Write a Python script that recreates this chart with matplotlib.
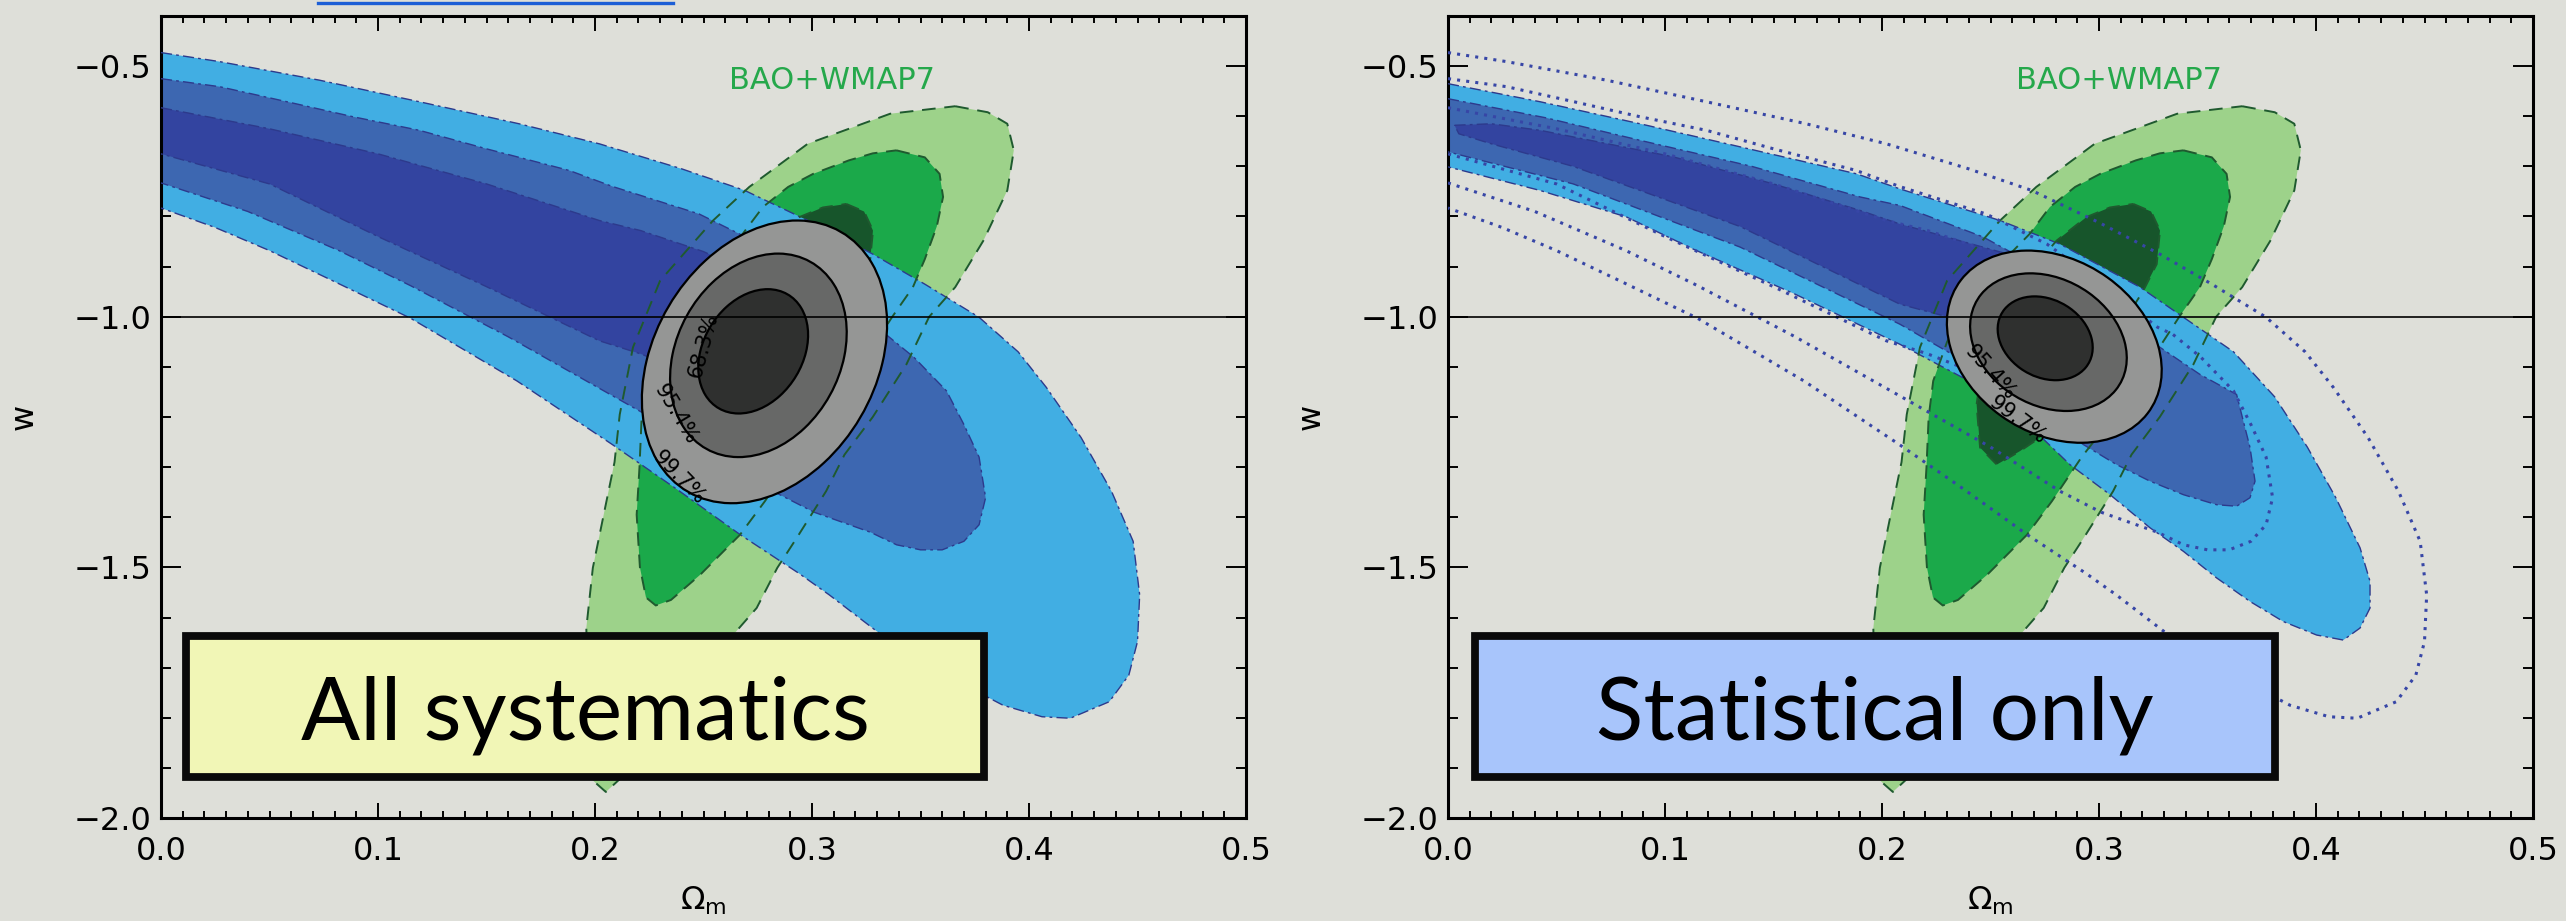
import numpy as np
import matplotlib
matplotlib.use("Agg")
import matplotlib.pyplot as plt
from matplotlib.patches import Ellipse, Rectangle
from matplotlib.lines import Line2D
from matplotlib.ticker import MultipleLocator, FixedLocator, FuncFormatter

# ---------------------------------------------------------------- data
# SN constraints, all systematics (68.3 / 95.4 / 99.7 %), Omega_m vs w
SYS99_OM = [0.000, 0.027, 0.073, 0.119, 0.165, 0.202, 0.240, 0.269, 0.300, 0.328, 0.352, 0.377,
            0.395, 0.408, 0.424, 0.438, 0.448, 0.451, 0.450, 0.446, 0.437, 0.419, 0.406, 0.388,
            0.355, 0.330, 0.308, 0.294, 0.267, 0.238, 0.208, 0.164, 0.115, 0.080, 0.050, 0.025, 0.000]
SYS99_W = [-0.473, -0.491, -0.528, -0.571, -0.615, -0.655, -0.705, -0.748, -0.812, -0.875, -0.935, -1.001,
           -1.070, -1.141, -1.241, -1.348, -1.448, -1.555, -1.648, -1.715, -1.768, -1.801, -1.798, -1.775,
           -1.700, -1.628, -1.555, -1.512, -1.435, -1.345, -1.255, -1.128, -1.003, -0.930, -0.868, -0.822, -0.783]

SYS95_OM = [0.000, 0.027, 0.058, 0.0885, 0.119, 0.150, 0.188, 0.208, 0.248, 0.276, 0.300, 0.327, 0.334,
            0.347, 0.362, 0.370, 0.377, 0.380, 0.377, 0.370, 0.360, 0.350, 0.339, 0.327, 0.301, 0.282,
            0.250, 0.207, 0.160, 0.115, 0.082, 0.040, 0.000]
SYS95_W = [-0.525, -0.541, -0.571, -0.601, -0.628, -0.665, -0.708, -0.740, -0.795, -0.855, -0.930, -1.021, -1.035,
           -1.081, -1.148, -1.215, -1.280, -1.361, -1.415, -1.448, -1.465, -1.465, -1.455, -1.430, -1.390, -1.348,
           -1.260, -1.155, -1.040, -0.938, -0.868, -0.790, -0.733]

SYS68_OM = [0.000, 0.050, 0.100, 0.150, 0.202, 0.221, 0.250, 0.280, 0.298, 0.302, 0.292, 0.270,
            0.245, 0.221, 0.202, 0.150, 0.100, 0.050, 0.000]
SYS68_W = [-0.583, -0.625, -0.675, -0.735, -0.808, -0.828, -0.870, -0.930, -0.990, -1.040, -1.090, -1.120,
           -1.115, -1.074, -1.048, -0.940, -0.840, -0.735, -0.675]

# SN constraints, statistical errors only
STAT99_OM = [0.000, 0.0424, 0.0885, 0.1346, 0.1884, 0.2083, 0.2544, 0.282, 0.3189, 0.3389, 0.362, 0.381,
             0.396, 0.409, 0.4203, 0.4249, 0.4249, 0.4203, 0.4126, 0.4003, 0.3849, 0.3696, 0.3542, 0.3389,
             0.3235, 0.3051, 0.2866, 0.2544, 0.2083, 0.160, 0.113, 0.0823, 0.0424, 0.000]
STAT99_W = [-0.535, -0.571, -0.615, -0.661, -0.715, -0.745, -0.808, -0.855, -0.941, -1.001, -1.070, -1.160,
            -1.260, -1.360, -1.461, -1.528, -1.581, -1.621, -1.645, -1.635, -1.608, -1.568, -1.521, -1.468,
            -1.421, -1.355, -1.295, -1.161, -1.055, -0.955, -0.865, -0.801, -0.748, -0.701]

STAT95_OM = [0.000, 0.045, 0.0885, 0.140, 0.1899, 0.2083, 0.2467, 0.280, 0.310, 0.3281, 0.3465, 0.3634,
             0.3696, 0.3719, 0.3696, 0.3634, 0.3542, 0.3389, 0.3235, 0.3081, 0.2928, 0.2544, 0.2083,
             0.1346, 0.0577, 0.000]
STAT95_W = [-0.565, -0.603, -0.648, -0.700, -0.761, -0.778, -0.841, -0.920, -1.010, -1.061, -1.115, -1.155,
            -1.261, -1.328, -1.361, -1.378, -1.375, -1.355, -1.328, -1.295, -1.255, -1.130, -1.015,
            -0.861, -0.735, -0.671]

STAT68_OM = [0.003, 0.020, 0.0424, 0.1038, 0.150, 0.190, 0.2083, 0.2621, 0.290, 0.300, 0.290, 0.260,
             0.230, 0.2083, 0.1346, 0.0577, 0.020, 0.005]
STAT68_W = [-0.618, -0.615, -0.628, -0.681, -0.735, -0.788, -0.815, -0.880, -0.950, -1.020, -1.070, -1.060,
            -1.000, -0.975, -0.820, -0.700, -0.655, -0.635]

# BAO + WMAP7 constraints
BAO99_OM = [0.366, 0.381, 0.390, 0.393, 0.390, 0.379, 0.366, 0.354, 0.3435, 0.328, 0.315, 0.3065, 0.293,
            0.284, 0.2745, 0.265, 0.245, 0.225, 0.212, 0.205, 0.199, 0.197, 0.196, 0.199, 0.204, 0.209,
            0.2114, 0.2175, 0.230, 0.2544, 0.2711, 0.298, 0.336]
BAO99_W = [-0.580, -0.592, -0.615, -0.668, -0.748, -0.848, -0.941, -1.000, -1.095, -1.200, -1.275, -1.348, -1.441,
           -1.501, -1.581, -1.628, -1.730, -1.840, -1.920, -1.948, -1.925, -1.800, -1.621, -1.501, -1.395, -1.290,
           -1.195, -1.061, -0.928, -0.808, -0.741, -0.655, -0.595]

BAO95_OM = [0.3389, 0.352, 0.3588, 0.3604, 0.3575, 0.352, 0.3465, 0.337, 0.325, 0.310, 0.292, 0.2783, 0.2668,
            0.2484, 0.235, 0.228, 0.2235, 0.2207, 0.2192, 0.2205, 0.2215, 0.2236, 0.230, 0.240, 0.256, 0.268,
            0.2774, 0.289, 0.3005, 0.317, 0.328]
BAO95_W = [-0.668, -0.682, -0.715, -0.761, -0.820, -0.885, -0.941, -1.000, -1.080, -1.180, -1.280, -1.368, -1.435,
           -1.515, -1.565, -1.576, -1.560, -1.500, -1.395, -1.300, -1.200, -1.128, -1.050, -0.970, -0.888, -0.835,
           -0.781, -0.741, -0.715, -0.688, -0.674]

BAO68_OM = [0.3158, 0.324, 0.3281, 0.3266, 0.3204, 0.310, 0.295, 0.282, 0.2728, 0.2636, 0.2529, 0.2452,
            0.2436, 0.246, 0.252, 0.262, 0.2805, 0.2943, 0.305]
BAO68_W = [-0.775, -0.790, -0.828, -0.895, -0.948, -1.020, -1.100, -1.170, -1.241, -1.268, -1.295, -1.261,
           -1.175, -1.100, -1.020, -0.940, -0.848, -0.801, -0.782]

# Combined SN+BAO+WMAP7 contours (centre, extent along each axis, correlation)
LEVELS = ["99.7%", "95.4%", "68.3%"]
COMB_SYS_OM = [0.2781, 0.2753, 0.2729]
COMB_SYS_W = [-1.090, -1.077, -1.069]
COMB_SYS_DOM = [0.0565, 0.0407, 0.0253]
COMB_SYS_DW = [0.282, 0.203, 0.124]
COMB_SYS_RHO = [0.266, 0.223, 0.263]

COMB_STAT_OM = [0.2794, 0.2767, 0.2752]
COMB_STAT_W = [-1.0597, -1.0507, -1.043]
COMB_STAT_DOM = [0.0495, 0.0361, 0.0219]
COMB_STAT_DW = [0.1917, 0.1373, 0.0836]
COMB_STAT_RHO = [-0.246, -0.229, -0.220]

X_TICKS = [0.0, 0.1, 0.2, 0.3, 0.4, 0.5]
Y_TICKS = [-2.0, -1.5, -1.0, -0.5]

# ---------------------------------------------------------------- style
BG = "#dedfd9"
SN_COLORS = ["#41aee3", "#3d67b1", "#3344a0"]
BAO_COLORS = ["#9dd28a", "#1ba94a", "#17552b"]
GRAY_COLORS = ["#959695", "#676867", "#2f302f"]
SN_EDGE = "#2d3a8c"
BAO_EDGE = "#1f5a2f"

plt.rcParams["font.family"] = ["DejaVu Sans"]

fig = plt.figure(figsize=(25.66, 9.21), dpi=100)
fig.patch.set_facecolor(BG)

axL = fig.add_axes([161 / 2566, 1 - 818 / 921, 1085 / 2566, 802 / 921])
axR = fig.add_axes([1448 / 2566, 1 - 818 / 921, 1085 / 2566, 802 / 921])

fig.add_artist(Line2D([318 / 2566, 673 / 2566], [1 - 3 / 921, 1 - 3 / 921],
                      transform=fig.transFigure, color="#1d5fd6", lw=2.4))


def minus_fmt(v, _pos):
    return f"{v:.1f}".replace("-", "\u2212")


def style_axes(ax):
    ax.set_facecolor("none")
    ax.set_xlim(0.0, 0.5)
    ax.set_ylim(-2.0, -0.4)
    ax.xaxis.set_major_locator(FixedLocator(X_TICKS))
    ax.xaxis.set_minor_locator(MultipleLocator(0.01))
    ax.yaxis.set_major_locator(FixedLocator(Y_TICKS))
    ax.yaxis.set_minor_locator(MultipleLocator(0.1))
    ax.xaxis.set_major_formatter(FuncFormatter(lambda v, p: f"{v:.1f}"))
    ax.yaxis.set_major_formatter(FuncFormatter(minus_fmt))
    ax.tick_params(which="both", direction="in", top=True, right=True, width=1.4, colors="black")
    ax.tick_params(axis="x", which="major", length=10.8, labelsize=23, pad=13)
    ax.tick_params(axis="x", which="minor", length=5.0)
    ax.tick_params(axis="y", which="major", length=14.4, labelsize=23, pad=7)
    ax.tick_params(axis="y", which="minor", length=7.2)
    for sp in ax.spines.values():
        sp.set_linewidth(2.2)
    ax.set_xlabel(r"$\Omega_{\rm m}$", fontsize=23)
    ax.set_ylabel("w", fontsize=23)
    ax.xaxis.set_label_coords(0.5, -0.083)
    ax.yaxis.set_label_coords(-0.112, 0.5)


def fill(ax, om, w, color, z):
    ax.fill(om, w, color=color, lw=0, zorder=z)


def edge(ax, om, w, closed, z, **kw):
    xs, ys = list(om), list(w)
    if closed:
        xs.append(xs[0])
        ys.append(ys[0])
    ax.plot(xs, ys, zorder=z, solid_joinstyle="round", **kw)


def comb_ellipse(ax, cx, cy, dx, dy, rho, **kw):
    cov = np.array([[dx * dx, rho * dx * dy], [rho * dx * dy, dy * dy]])
    vals, vecs = np.linalg.eigh(cov)
    ang = np.degrees(np.arctan2(vecs[1, 1], vecs[0, 1]))
    e = Ellipse((cx, cy), 2 * np.sqrt(vals[1]), 2 * np.sqrt(vals[0]), angle=ang, **kw)
    ax.add_patch(e)


bao = [(BAO99_OM, BAO99_W), (BAO95_OM, BAO95_W), (BAO68_OM, BAO68_W)]
sys_sn = [(SYS99_OM, SYS99_W, False), (SYS95_OM, SYS95_W, False), (SYS68_OM, SYS68_W, False)]
stat_sn = [(STAT99_OM, STAT99_W, False), (STAT95_OM, STAT95_W, False), (STAT68_OM, STAT68_W, True)]

dashdot = dict(color=SN_EDGE, lw=1.0, linestyle=(0, (8, 3, 2, 3)))
dashed = dict(color=BAO_EDGE, lw=1.4, linestyle=(0, (7, 4.5)))
dotted = dict(color="#3746a6", lw=2.2, linestyle=(0, (1, 2.0)), dash_capstyle="butt")

panels = [
    (axL, sys_sn, (COMB_SYS_OM, COMB_SYS_W, COMB_SYS_DOM, COMB_SYS_DW, COMB_SYS_RHO),
     "All systematics", "#f1f6b6",
     [("99.7%", 0.2388, -1.321, -46), ("95.4%", 0.2373, -1.195, -59), ("68.3%", 0.2499, -1.058, 75)],
     (0.0230, 0.0511, 0.7355, 0.1758)),
    (axR, stat_sn, (COMB_STAT_OM, COMB_STAT_W, COMB_STAT_DOM, COMB_STAT_DW, COMB_STAT_RHO),
     "Statistical only", "#a8c5fb",
     [("99.7%", 0.2624, -1.207, -37), ("95.4%", 0.2501, -1.111, -48)],
     (0.0249, 0.0511, 0.7373, 0.1758)),
]

for ax, sn, comb, title, boxcolor, clabels, box in panels:
    style_axes(ax)
    # BAO fills
    for (om, w), c in zip(bao, BAO_COLORS):
        fill(ax, om, w, c, 1)
    # SN fills and outlines
    for (om, w, closed), c in zip(sn, SN_COLORS):
        fill(ax, om, w, c, 2)
    for om, w, closed in sn:
        edge(ax, om, w, closed, 3, **dashdot)
    for om, w in bao:
        edge(ax, om, w, True, 4, **dashed)
    # all-systematics contours outlined on the statistical-only panel
    if ax is axR:
        for om, w, closed in sys_sn:
            edge(ax, om, w, closed, 5, **dotted)
    # combined contours
    cxs, cys, dxs, dys, rhos = comb
    for i in range(3):
        comb_ellipse(ax, cxs[i], cys[i], dxs[i], dys[i], rhos[i],
                     facecolor=GRAY_COLORS[i], edgecolor="black", lw=1.6, zorder=6 + i * 0.1)
    for txt, x, y, rot in clabels:
        ax.text(x, y, txt, fontsize=15, rotation=rot, rotation_mode="anchor",
                ha="center", va="center", color="black", zorder=7)
    ax.axhline(-1.0, color="black", lw=1.2, zorder=8)
    ax.text(0.309, -0.528, "BAO+WMAP7", color="#25a84b", fontsize=22,
            ha="center", va="center", zorder=8)
    # label box with a heavy black border
    bx, by, bw, bh = box
    rect = Rectangle((bx, by), bw, bh, transform=ax.transAxes, facecolor=boxcolor,
                     edgecolor="#0a0a0a", lw=5.6, joinstyle="miter", zorder=9, clip_on=False)
    ax.add_patch(rect)
    ax.text(bx + bw / 2, 0.0973, title, transform=ax.transAxes, fontsize=63,
            family=["Lato", "DejaVu Sans"], ha="center", va="baseline", color="black", zorder=10)

fig.savefig("out.png", dpi=100, facecolor=BG)
